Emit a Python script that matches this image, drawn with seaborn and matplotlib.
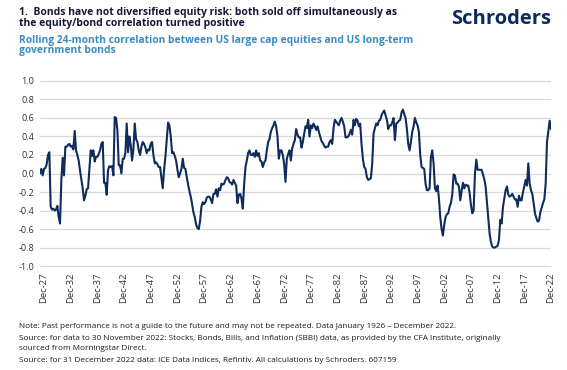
import matplotlib
matplotlib.use("Agg")
import matplotlib.pyplot as plt
import pandas as pd
import numpy as np
import seaborn as sns

sns.set_style("white")
plt.rcParams['font.family'] = ['Open Sans', 'DejaVu Sans']
plt.rcParams['axes.unicode_minus'] = False

# quarterly readings of the rolling 24-month equity/bond correlation, Mar-1927 .. Dec-2022
corr = [
    0.00, 0.05, -0.02, 0.05, 0.06, 0.10, 0.20, 0.23, -0.36, -0.39,
    -0.38, -0.40, -0.39, -0.35, -0.47, -0.54, -0.07, 0.17, -0.02, 0.29,
    0.29, 0.31, 0.32, 0.29, 0.30, 0.26, 0.46, 0.25, 0.20, 0.14,
    0.03, -0.07, -0.16, -0.29, -0.24, -0.17, -0.16, 0.04, 0.25, 0.19,
    0.25, 0.13, 0.18, 0.18, 0.21, 0.25, 0.32, 0.34, -0.10, -0.10,
    -0.23, 0.04, 0.08, 0.07, 0.08, -0.02, 0.61, 0.60, 0.47, 0.09,
    0.09, 0.00, 0.16, 0.16, 0.22, 0.54, 0.23, 0.40, 0.31, 0.14,
    0.26, 0.54, 0.37, 0.34, 0.25, 0.20, 0.29, 0.34, 0.32, 0.28,
    0.22, 0.26, 0.25, 0.32, 0.34, 0.20, 0.11, 0.12, 0.10, 0.07,
    0.07, -0.05, -0.16, 0.04, 0.18, 0.36, 0.55, 0.52, 0.40, 0.22,
    0.23, 0.19, 0.14, 0.04, -0.04, 0.00, 0.05, 0.16, 0.06, 0.05,
    -0.04, -0.12, -0.19, -0.25, -0.33, -0.42, -0.47, -0.55, -0.59, -0.60,
    -0.51, -0.36, -0.31, -0.33, -0.31, -0.26, -0.25, -0.25, -0.28, -0.32,
    -0.22, -0.22, -0.17, -0.25, -0.16, -0.18, -0.11, -0.12, -0.11, -0.07,
    -0.04, -0.05, -0.09, -0.10, -0.12, -0.07, -0.10, -0.13, -0.32, -0.23,
    -0.22, -0.27, -0.38, -0.12, 0.07, 0.14, 0.22, 0.25, 0.20, 0.20,
    0.22, 0.18, 0.25, 0.19, 0.22, 0.14, 0.13, 0.07, 0.12, 0.14,
    0.25, 0.34, 0.37, 0.45, 0.49, 0.52, 0.56, 0.51, 0.40, 0.16,
    0.25, 0.25, 0.20, 0.10, -0.09, 0.16, 0.21, 0.25, 0.14, 0.27,
    0.32, 0.36, 0.48, 0.42, 0.39, 0.39, 0.28, 0.34, 0.43, 0.51,
    0.49, 0.58, 0.40, 0.52, 0.49, 0.54, 0.51, 0.47, 0.51, 0.45,
    0.40, 0.35, 0.33, 0.30, 0.28, 0.29, 0.29, 0.34, 0.36, 0.32,
    0.49, 0.58, 0.56, 0.54, 0.52, 0.57, 0.60, 0.56, 0.51, 0.39,
    0.39, 0.40, 0.43, 0.47, 0.42, 0.58, 0.52, 0.59, 0.57, 0.51,
    0.54, 0.32, 0.16, 0.07, 0.05, -0.04, -0.07, -0.06, -0.05, 0.11,
    0.43, 0.49, 0.54, 0.52, 0.57, 0.58, 0.63, 0.66, 0.68, 0.63,
    0.58, 0.48, 0.52, 0.52, 0.55, 0.60, 0.36, 0.54, 0.55, 0.57,
    0.58, 0.66, 0.69, 0.64, 0.60, 0.48, 0.32, 0.25, 0.34, 0.45,
    0.51, 0.60, 0.55, 0.52, 0.45, 0.20, 0.07, 0.06, 0.05, -0.11,
    -0.18, -0.18, -0.16, 0.18, 0.25, 0.11, -0.16, -0.19, -0.13, -0.27,
    -0.47, -0.60, -0.67, -0.55, -0.47, -0.44, -0.43, -0.36, -0.32, -0.23,
    -0.01, -0.02, -0.11, -0.11, -0.14, -0.29, -0.19, -0.10, -0.16, -0.12,
    -0.13, -0.13, -0.21, -0.34, -0.43, -0.40, 0.00, 0.15, 0.04, 0.04,
    0.04, 0.04, -0.01, -0.06, -0.14, -0.31, -0.47, -0.65, -0.74, -0.79,
    -0.80, -0.80, -0.79, -0.78, -0.72, -0.50, -0.54, -0.36, -0.27, -0.18,
    -0.14, -0.23, -0.25, -0.24, -0.22, -0.25, -0.28, -0.28, -0.36, -0.24,
    -0.29, -0.29, -0.20, -0.14, -0.07, -0.13, 0.11, -0.11, -0.18, -0.22,
    -0.32, -0.43, -0.48, -0.52, -0.51, -0.42, -0.37, -0.32, -0.28, -0.11,
    0.34, 0.45, 0.57, 0.48,
]
dates = pd.date_range("1927-03-31", "2022-12-31", freq="QE")
tick_years = list(range(1927, 2023, 5))
y_ticks = [-1.0, -0.8, -0.6, -0.4, -0.2, 0.0, 0.2, 0.4, 0.6, 0.8, 1.0]

title = ["1.  Bonds have not diversified equity risk: both sold off simultaneously as",
         "the equity/bond correlation turned positive"]
subtitle = ["Rolling 24-month correlation between US large cap equities and US long-term",
            "government bonds"]
notes = [
    "Note: Past performance is not a guide to the future and may not be repeated. Data January 1926 \u2013 December 2022.",
    "Source: for data to 30 November 2022: Stocks, Bonds, Bills, and Inflation (SBBI) data, as provided by the CFA Institute, originally",
    "sourced from Morningstar Direct.",
    "Source: for 31 December 2022 data: ICE Data Indices, Refintiv. All calculations by Schroders. 607159",
]

df = pd.DataFrame({"date": dates, "corr": corr})

W, H = 567, 370
fig = plt.figure(figsize=(W / 100, H / 100), dpi=100)
ax = fig.add_axes([40 / W, 1 - 267 / H, (551 - 40) / W, (267 - 80) / H])

sns.lineplot(data=df, x="date", y="corr", ax=ax, color="#0f2c5c", linewidth=1.5)

ax.set_ylim(-1.01, 1.01)
ax.set_xlim(dates[0], dates[-1])
ax.set_yticks(y_ticks)
ax.set_yticklabels([f"{v:.1f}" for v in y_ticks], fontsize=6.6, color="#333333")
tick_dates = pd.to_datetime([f"{y}-12-31" for y in tick_years])
ax.set_xticks(tick_dates)
ax.set_xticklabels([d.strftime("%b-%y") for d in tick_dates], rotation=90,
                   fontsize=6.8, color="#333333")
ax.tick_params(length=0, pad=4)
ax.grid(axis="y", color="#d9d9d9", linewidth=0.9)
ax.set_axisbelow(True)
for s in ax.spines.values():
    s.set_visible(False)
ax.set_xlabel("")
ax.set_ylabel("")

fig.text(19 / W, 1 - 13 / H, title[0], fontsize=7.5, fontweight="bold", color="#14183a", va="center")
fig.text(19 / W, 1 - 23.5 / H, title[1], fontsize=7.5, fontweight="bold", color="#14183a", va="center")
fig.text(19 / W, 1 - 40 / H, subtitle[0], fontsize=7.4, fontweight="bold", color="#3a8cc4", va="center")
fig.text(19 / W, 1 - 51 / H, subtitle[1], fontsize=7.4, fontweight="bold", color="#3a8cc4", va="center")
fig.text(551 / W, 1 - 19 / H, "Schroders", fontsize=14.5, fontweight="bold", color="#0d2b5e",
         va="center", ha="right")
for k, line in enumerate(notes):
    fig.text(19 / W, 1 - (327 + 11 * k) / H, line, fontsize=5.85, color="#1a1a1a", va="center")

fig.savefig("out.png", dpi=100)
